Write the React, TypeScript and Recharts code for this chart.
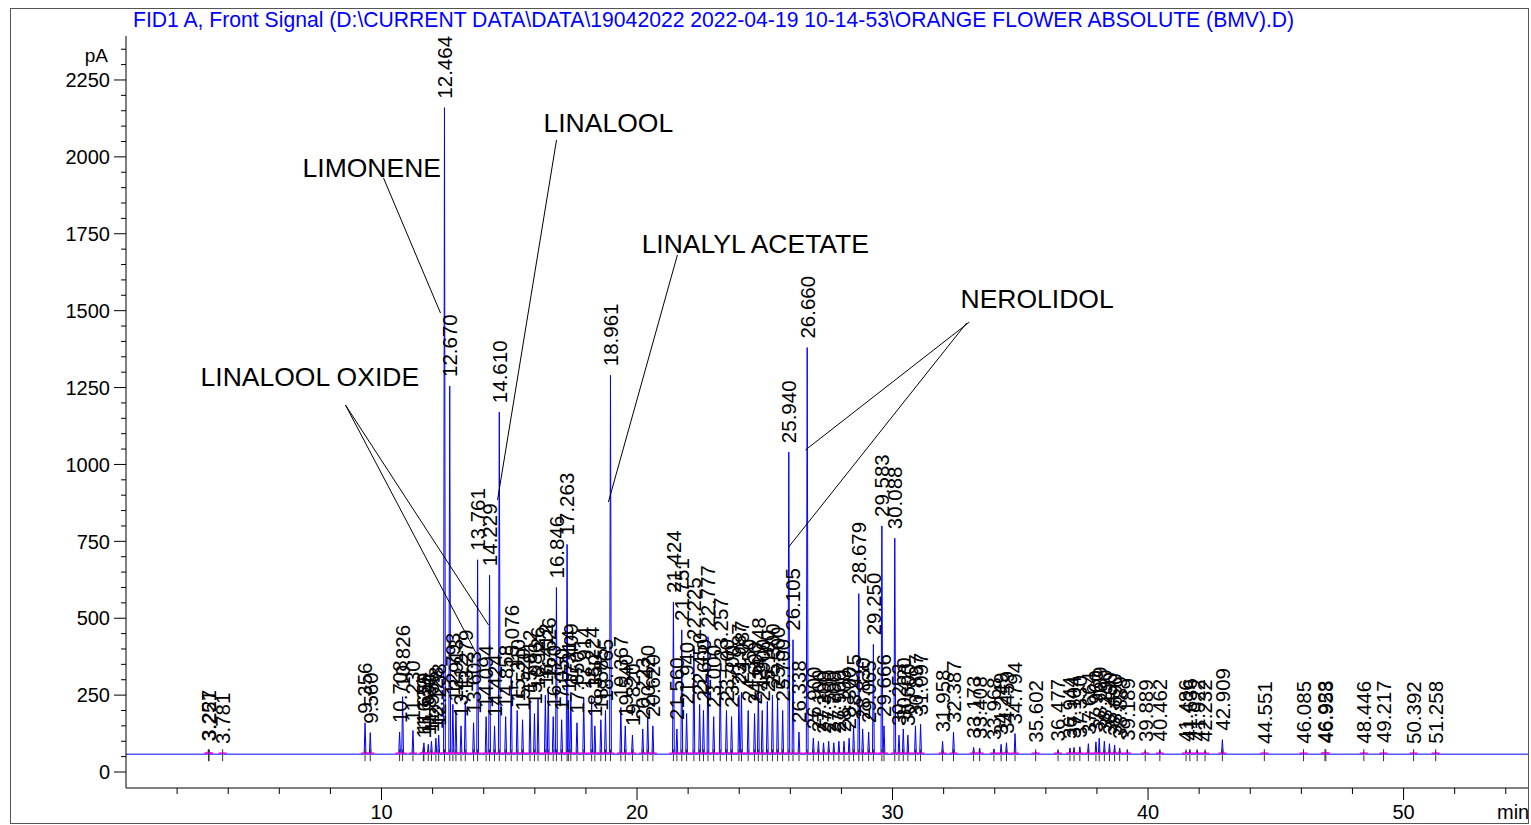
import React from 'react';
import { ComposedChart, Line, Scatter, XAxis, YAxis, ReferenceLine } from 'recharts';

const BASE = 58;

const peakTimes = [
  3.227, 3.251, 3.781, 9.356, 9.56, 10.708, 10.826, 11.23, 11.639, 11.659, 11.83, 11.955, 12.128, 12.238,
  12.464, 12.67, 12.793, 12.913, 13.112, 13.279, 13.603, 13.761, 14.094, 14.229, 14.424, 14.61, 14.858,
  15.076, 15.31, 15.52, 15.812, 15.986, 16.126, 16.412, 16.526, 16.72, 16.846, 17.05, 17.263, 17.314,
  17.409, 17.65, 17.914, 18.224, 18.35, 18.585, 18.765, 18.961, 19.367, 19.54, 19.82, 20.223, 20.42,
  20.62, 21.424, 21.56, 21.751, 21.94, 22.225, 22.45, 22.6, 22.777, 23.0, 23.257, 23.5, 23.7, 23.987,
  24.087, 24.35, 24.6, 24.748, 24.9, 25.1, 25.3, 25.5, 25.7, 25.94, 26.105, 26.338, 26.66, 26.9, 27.1,
  27.3, 27.5, 27.7, 27.9, 28.1, 28.3, 28.475, 28.679, 28.83, 29.065, 29.25, 29.583, 29.666, 30.088,
  30.253, 30.42, 30.6, 30.897, 31.097, 31.958, 32.387, 33.173, 33.408, 33.968, 34.249, 34.459, 34.794,
  35.602, 36.477, 36.944, 37.104, 37.33, 37.664, 37.96, 38.089, 38.29, 38.49, 38.69, 38.889, 39.189,
  39.889, 40.462, 41.486, 41.636, 41.922, 42.232, 42.909, 44.551, 46.085, 46.923, 46.958, 48.446,
  49.217, 50.392, 51.258,
];

const peakHeights = [
  72, 70, 62, 160, 128, 130, 245, 135, 80, 95, 90, 100, 110, 120,
  2160, 1255, 220, 200, 150, 230, 160, 690, 180, 640, 150, 1170, 180,
  310, 200, 170, 230, 190, 240, 250, 270, 180, 600, 170, 740, 230,
  250, 160, 240, 240, 150, 170, 200, 1290, 210, 150, 120, 140, 180,
  150, 553, 140, 462, 190, 400, 220, 200, 440, 180, 335, 200, 180, 250,
  260, 200, 190, 270, 200, 230, 250, 240, 200, 1040, 430, 130, 1380, 110, 100,
  95, 100, 95, 100, 100, 110, 150, 580, 140, 130, 415, 800, 150, 760,
  120, 140, 120, 150, 155, 100, 130, 80, 78, 75, 90, 95, 125,
  66, 70, 78, 80, 82, 92, 98, 110, 100, 92, 88, 78, 72,
  68, 70, 68, 72, 70, 68, 105, 62, 63, 64, 64, 63,
  65, 62, 63,
];

const annNames = ['LIMONENE', 'LINALOOL', 'LINALYL ACETATE', 'NEROLIDOL', 'LINALOOL OXIDE'];
const annX = [6.91, 16.34, 20.18, 32.66, 2.92];
const annY = [1964, 2113, 1720, 1541, 1287];

const annLines = [
  [10.08, 1931, 12.31, 1492],
  [16.85, 2055, 14.54, 884],
  [21.58, 1681, 18.88, 878],
  [33.01, 1463, 26.59, 1047],
  [32.9, 1460, 25.93, 731],
  [8.59, 1193, 13.68, 390],
  [8.59, 1193, 14.19, 478],
];

const xTicks = [2, 4, 6, 8, 10, 12, 14, 16, 18, 20, 22, 24, 26, 28, 30, 32, 34, 36, 38, 40, 42, 44, 46, 48, 50, 52, 54];
const yTicks: number[] = [];
for (let v = 0; v <= 2350; v += 50) yTicks.push(v);

const X_MAX = 54.87;
const Y_MIN = -52;
const Y_MAX = 2393;
const HALF = 0.035;

const signal: { t: number; v: number }[] = [{ t: 0, v: BASE }];
peakTimes.forEach((rt, i) => {
  signal.push({ t: rt - HALF, v: BASE });
  signal.push({ t: rt, v: peakHeights[i] });
  signal.push({ t: rt + HALF, v: BASE });
});
signal.push({ t: X_MAX, v: BASE });

const labelData = peakTimes.map((rt, i) => ({ t: rt, v: peakHeights[i], label: rt.toFixed(3) }));
const markData = peakTimes.map((rt) => ({ t: rt, v: BASE }));
const annData = annNames.map((n, i) => ({ t: annX[i], v: annY[i], label: n }));

const FONT = 'Arial, "Liberation Sans", sans-serif';

const PeakLabel = (props: any) => {
  const { cx, cy, payload } = props;
  const y0 = cy - 9;
  return (
    <text
      x={cx}
      y={y0}
      transform={`rotate(-90 ${cx} ${y0})`}
      dy="0.36em"
      fontSize={20.5}
      fontFamily={FONT}
      fill="#000"
      textAnchor="start"
    >
      {payload.label}
    </text>
  );
};

const Mark = (props: any) => {
  const { cx, cy } = props;
  return (
    <g>
      <line x1={cx - 4} x2={cx + 4} y1={cy - 1} y2={cy - 1} stroke="#ff00ff" strokeWidth={1.5} />
      <line x1={cx} x2={cx} y1={cy - 5} y2={cy + 7} stroke="#333" strokeWidth={1} />
    </g>
  );
};

const AnnLabel = (props: any) => {
  const { cx, cy, payload } = props;
  return (
    <text x={cx} y={cy} dy="0.36em" fontSize={26.5} fontFamily={FONT} fill="#000" textAnchor="start">
      {payload.label}
    </text>
  );
};

const YTick = (props: any) => {
  const { x, y, payload } = props;
  const v = payload.value;
  const major = v % 250 === 0;
  return (
    <g>
      <line x1={x - (major ? 12 : 5)} x2={x} y1={y} y2={y} stroke="#000" strokeWidth={1} />
      {major && (
        <text x={x - 16} y={y} dy="0.36em" textAnchor="end" fontSize={20} fontFamily={FONT} fill="#000">
          {v}
        </text>
      )}
    </g>
  );
};

const XTick = (props: any) => {
  const { x, y, payload } = props;
  const v = payload.value;
  const major = v % 10 === 0;
  return (
    <g>
      <line x1={x} x2={x} y1={y} y2={y + (major ? 12 : 6)} stroke="#000" strokeWidth={1} />
      {major && (
        <text x={x} y={y + 24} dy="0.36em" textAnchor="middle" fontSize={20} fontFamily={FONT} fill="#000">
          {v}
        </text>
      )}
    </g>
  );
};

export default function App() {
  return (
    <div style={{ position: 'absolute', left: 0, top: 0, width: 1531, height: 825, background: '#fff' }}>
      <ComposedChart
        width={1531}
        height={825}
        margin={{ top: 36, right: 3, bottom: 0, left: 0 }}
      >
        <XAxis
          type="number"
          dataKey="t"
          domain={[0, X_MAX]}
          ticks={xTicks}
          interval={0}
          height={37}
          allowDataOverflow
          tick={<XTick />}
          tickSize={0}
          tickMargin={0}
          tickLine={false}
          axisLine={{ stroke: '#000' }}
        />
        <YAxis
          type="number"
          domain={[Y_MIN, Y_MAX]}
          ticks={yTicks}
          interval={0}
          allowDataOverflow
          width={126}
          tick={<YTick />}
          tickSize={0}
          tickMargin={0}
          tickLine={false}
          axisLine={{ stroke: '#000' }}
        />
        <Scatter data={markData} dataKey="v" shape={<Mark />} isAnimationActive={false} />
        <Line
          data={signal}
          dataKey="v"
          type="linear"
          stroke="#0000ff"
          strokeWidth={1}
          dot={false}
          activeDot={false}
          isAnimationActive={false}
        />
        <Scatter data={labelData} dataKey="v" shape={<PeakLabel />} isAnimationActive={false} />
        {annLines.map((s, i) => (
          <ReferenceLine
            key={i}
            segment={[{ x: s[0], y: s[1] }, { x: s[2], y: s[3] }]}
            stroke="#000"
            strokeWidth={1}
            ifOverflow="visible"
          />
        ))}
        <Scatter data={annData} dataKey="v" shape={<AnnLabel />} isAnimationActive={false} />
      </ComposedChart>
      <div
        style={{
          position: 'absolute', left: 133, top: 8, fontSize: 21.15, fontFamily: FONT, color: '#0000ff',
          whiteSpace: 'nowrap', lineHeight: '24px',
        }}
      >
        FID1 A, Front Signal (D:\CURRENT DATA\DATA\19042022 2022-04-19 10-14-53\ORANGE FLOWER ABSOLUTE (BMV).D)
      </div>
      <div style={{ position: 'absolute', right: 1531 - 108, top: 45, fontSize: 19, fontFamily: FONT, lineHeight: '22px' }}>
        pA
      </div>
      <div style={{ position: 'absolute', left: 1497, top: 801, fontSize: 20, fontFamily: FONT, lineHeight: '22px' }}>
        min
      </div>
      <div
        style={{
          position: 'absolute', left: 10, top: 8, width: 1519, height: 816, boxSizing: 'border-box',
          border: '1.5px solid #555', pointerEvents: 'none',
        }}
      />
    </div>
  );
}
